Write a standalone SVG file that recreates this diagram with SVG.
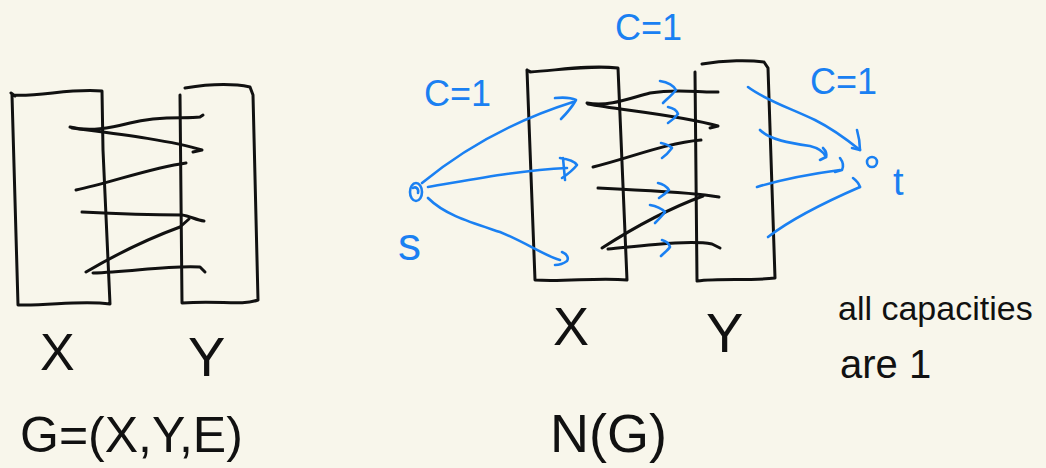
<svg xmlns="http://www.w3.org/2000/svg" width="1046" height="468" viewBox="0 0 1046 468">
<style>
.k{fill:none;stroke:#111;stroke-width:3;stroke-linecap:round;stroke-linejoin:round}
.b{fill:none;stroke:#1a80f2;stroke-width:2.6;stroke-linecap:round;stroke-linejoin:round}
.tk{font-family:"Liberation Sans",Arial,sans-serif;fill:#111}
.tb{font-family:"Liberation Sans",Arial,sans-serif;fill:#1a80f2}
</style>
<rect width="1046" height="468" fill="#f8f6eb"/>
<g id="G-X">
<path class="k" d="M15,96 L11,93 M12,95 C40,97 70,88 102,91 L103,150 L110,304 C80,300 50,306 18,305 L12,95"/>
</g>
<g id="G-Y">
<path class="k" d="M180,95 L182,303 M185,88 C210,84 235,84 250,87 L253,95 L258,300 C240,306 220,300 182,303"/>
</g>
<g id="N-X">
<path class="k" d="M531,72 L527,70 M527,70 L535,280 C565,282 600,277 627,280 L618,68 C590,65 560,70 530,72"/>
</g>
<g id="N-Y">
<path class="k" d="M695,72 L697,280 M702,64 C725,60 750,60 764,62 L768,68 L775,278 C750,281 720,278 697,281"/>
</g>
<g id="s">
<ellipse class="b" cx="416" cy="192" rx="6" ry="9"/>
<path class="b" d="M413,188 C416,186 419,189 418,193"/>
</g>
<g id="t">
<ellipse class="b" cx="872" cy="162" rx="5" ry="5"/>
</g>
<g id="connectors">
<path class="k" d="M70,127 C90,132 110,128 130,123 C160,115 185,119 200,117 L203,115"/>
<path class="k" d="M72,128 C110,133 170,140 202,150 L193,152"/>
<path class="k" d="M76,190 C110,183 150,168 186,163"/>
<path class="k" d="M82,212 C120,214 160,215 182,215 C190,216 196,220 204,221"/>
<path class="k" d="M86,272 C115,255 150,238 180,227 L189,219"/>
<path class="k" d="M93,273 C130,272 170,265 200,267 L205,272"/>
<path class="k" d="M587,103 C610,107 630,98 650,93 C680,88 700,93 718,92"/>
<path class="k" d="M588,104 C620,110 680,115 718,126 L710,128"/>
<path class="k" d="M593,167 C630,158 665,143 701,140"/>
<path class="k" d="M598,188 C640,190 680,192 705,195 L719,197"/>
<path class="k" d="M602,248 C630,230 665,210 703,196"/>
<path class="k" d="M608,249 C650,245 690,240 712,244 L720,248"/>
<path class="b" d="M660,81 C668,82 674,86 676,90 C672,95 667,99 663,103"/>
<path class="b" d="M668,107 C673,108 677,111 678,114 C675,118 671,121 668,123"/>
<path class="b" d="M661,143 C666,144 670,146 672,148 C669,152 665,156 662,158"/>
<path class="b" d="M658,183 C663,184 667,187 669,190 C666,193 662,196 659,198"/>
<path class="b" d="M650,205 C656,206 662,209 665,212 C662,216 658,220 655,223"/>
<path class="b" d="M662,240 C666,241 669,244 670,247 C668,250 664,253 661,256"/>
<path class="b" d="M422,183 C450,160 500,125 573,102"/>
<path class="b" d="M555,98 C565,97 572,98 576,100 C572,107 567,113 561,119"/>
<path class="b" d="M428,187 C470,180 520,170 567,168"/>
<path class="b" d="M560,158 C568,159 575,162 577,165 C573,170 568,174 562,178 M563,158 L565,180"/>
<path class="b" d="M428,198 C445,215 470,222 500,232 C525,242 545,256 560,260"/>
<path class="b" d="M562,252 C567,254 569,258 567,261 C563,264 558,265 555,265"/>
<path class="b" d="M748,87 C765,100 790,108 815,120 C835,130 850,142 860,150"/>
<path class="b" d="M857,130 C859,137 860,143 860,150 L852,148"/>
<path class="b" d="M760,130 C770,140 790,143 810,146 C818,148 824,152 826,157"/>
<path class="b" d="M823,148 C826,151 827,154 826,157 L820,160"/>
<path class="b" d="M757,187 C780,180 810,174 840,170"/>
<path class="b" d="M840,158 C843,162 844,166 842,170 L835,172"/>
<path class="b" d="M768,237 C790,220 830,200 860,187"/>
<path class="b" d="M853,178 C857,181 859,184 860,187"/>
</g>
<g id="labels">
<text class="tb" x="615" y="40" font-size="36">C=1</text>
<text class="tb" x="424" y="106" font-size="36">C=1</text>
<text class="tb" x="810" y="94" font-size="36">C=1</text>
<text class="tb" x="398" y="260" font-size="46">s</text>
<text class="tb" x="893" y="195" font-size="38">t</text>
<text class="tk" x="40" y="370" font-size="52">X</text>
<text class="tk" x="188" y="376" font-size="56">Y</text>
<text class="tk" x="553" y="345" font-size="54">X</text>
<text class="tk" x="706" y="352" font-size="56">Y</text>
<text class="tk" x="20" y="452" font-size="50">G=(X,Y,E)</text>
<text class="tk" x="550" y="452" font-size="54">N(G)</text>
<text class="tk" x="838" y="320" font-size="34">all capacities</text>
<text class="tk" x="840" y="378" font-size="40">are 1</text>
</g>
</svg>
